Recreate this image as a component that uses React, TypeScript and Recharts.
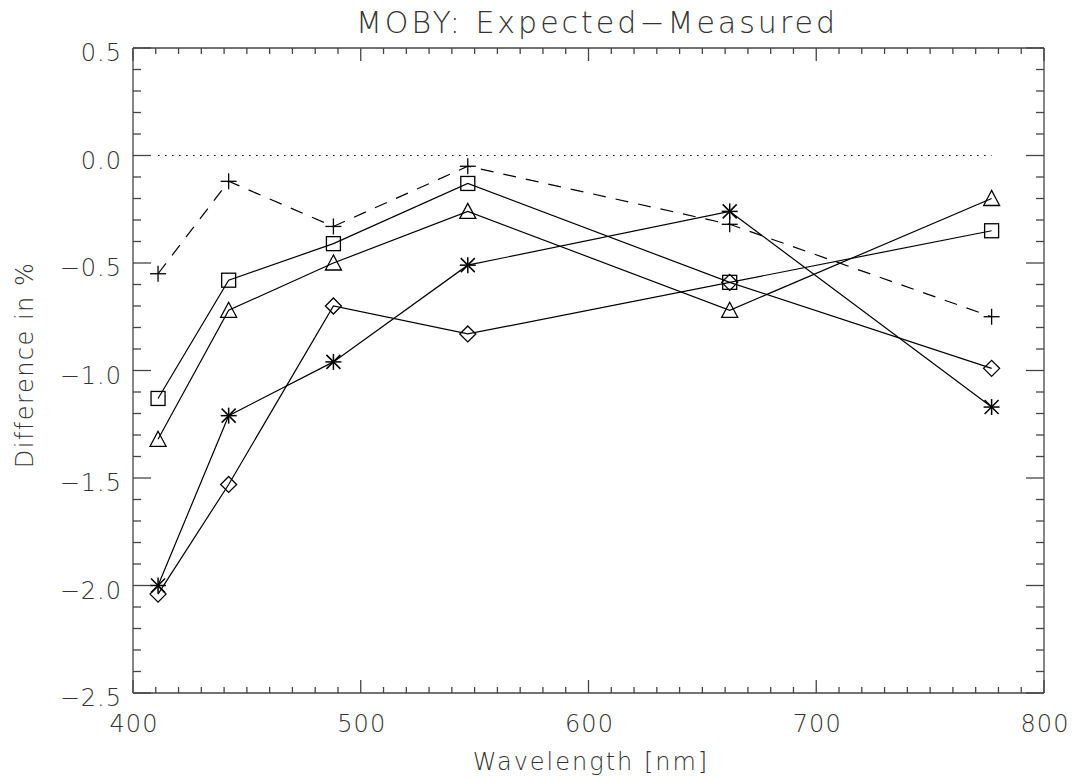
import { LineChart, Line, XAxis, YAxis } from "recharts";

// wavelengths (nm) of the six MOBY bands
const wavelengths = [411, 442, 488, 547, 662, 777];

// Expected - Measured differences in %
const plusSeries = [-0.55, -0.12, -0.33, -0.05, -0.32, -0.75];
const squareSeries = [-1.13, -0.58, -0.41, -0.13, -0.59, -0.35];
const triangleSeries = [-1.32, -0.72, -0.5, -0.26, -0.72, -0.2];
const asteriskSeries = [-2.0, -1.21, -0.96, -0.51, -0.26, -1.17];
const diamondSeries = [-2.04, -1.53, -0.7, -0.83, -0.59, -0.99];

const zeroLineX = [411, 777];
const zeroLineY = [0, 0];

const xMajorTicks = [400, 500, 600, 700, 800];
const yMajorTicks = [0.5, 0, -0.5, -1, -1.5, -2, -2.5];

const xMinorTicks: number[] = [];
for (let k = 40; k <= 80; k++) xMinorTicks.push(k * 10);
const yMinorTicks: number[] = [];
for (let k = -25; k <= 5; k++) yMinorTicks.push(k / 10);

const rows = wavelengths.map((w, i) => ({
  w,
  plus: plusSeries[i],
  square: squareSeries[i],
  triangle: triangleSeries[i],
  asterisk: asteriskSeries[i],
  diamond: diamondSeries[i],
}));
const zeroRows = zeroLineX.map((w, i) => ({ w, zero: zeroLineY[i] }));

const AXIS = "#444";
const INK = "#000";
const TEXT = "#333";
const FONT = "'DejaVu Sans', sans-serif";

const isMajorX = (v: number) => xMajorTicks.some((t) => Math.abs(t - v) < 1e-6);
const isMajorY = (v: number) => yMajorTicks.some((t) => Math.abs(t - v) < 1e-6);
const fmtY = (v: number) => (v < 0 ? "\u2212" : "") + Math.abs(v).toFixed(1);

const labelStyle = { fill: TEXT, fontFamily: FONT, fontWeight: 200 } as const;

const BottomTick = ({ x, y, payload }: any) => {
  const major = isMajorX(payload.value);
  return (
    <g>
      <line x1={x} x2={x} y1={y} y2={y - (major ? 13 : 6)} stroke={AXIS} strokeWidth={1.3} />
      {major && (
        <text x={x + 1} y={y + 39} textAnchor="middle" fontSize={24} letterSpacing={1} {...labelStyle}>
          {payload.value}
        </text>
      )}
    </g>
  );
};

const TopTick = ({ x, y, payload }: any) => {
  const major = isMajorX(payload.value);
  return <line x1={x} x2={x} y1={y} y2={y + (major ? 13 : 6)} stroke={AXIS} strokeWidth={1.3} />;
};

const LeftTick = ({ x, y, payload }: any) => {
  const major = isMajorY(payload.value);
  return (
    <g>
      <line x1={x} x2={x + (major ? 18 : 8)} y1={y} y2={y} stroke={AXIS} strokeWidth={1.3} />
      {major && (
        <text x={x - 11} y={y + 13} textAnchor="end" fontSize={24} letterSpacing={1} {...labelStyle}>
          {fmtY(payload.value)}
        </text>
      )}
    </g>
  );
};

const RightTick = ({ x, y, payload }: any) => {
  const major = isMajorY(payload.value);
  return <line x1={x} x2={x - (major ? 18 : 8)} y1={y} y2={y} stroke={AXIS} strokeWidth={1.3} />;
};

const PlusMark = ({ cx, cy }: any) => (
  <g stroke={INK} strokeWidth={1.3}>
    <line x1={cx - 8} x2={cx + 8} y1={cy} y2={cy} />
    <line x1={cx} x2={cx} y1={cy - 8} y2={cy + 8} />
  </g>
);
const SquareMark = ({ cx, cy }: any) => (
  <rect x={cx - 7} y={cy - 7} width={14} height={14} fill="none" stroke={INK} strokeWidth={1.3} />
);
const TriangleMark = ({ cx, cy }: any) => (
  <polygon points={`${cx},${cy - 8} ${cx - 8},${cy + 7} ${cx + 8},${cy + 7}`} fill="none" stroke={INK} strokeWidth={1.3} />
);
const DiamondMark = ({ cx, cy }: any) => (
  <polygon points={`${cx},${cy - 8} ${cx + 8},${cy} ${cx},${cy + 8} ${cx - 8},${cy}`} fill="none" stroke={INK} strokeWidth={1.3} />
);
const AsteriskMark = ({ cx, cy }: any) => (
  <g stroke={INK} strokeWidth={1.5}>
    <line x1={cx - 8} x2={cx + 8} y1={cy} y2={cy} />
    <line x1={cx} x2={cx} y1={cy - 8} y2={cy + 8} />
    <line x1={cx - 7} x2={cx + 7} y1={cy - 7} y2={cy + 7} />
    <line x1={cx - 7} x2={cx + 7} y1={cy + 7} y2={cy - 7} />
  </g>
);

const markerDot = (Mark: any) => (p: any) => <Mark key={p.index} cx={p.cx} cy={p.cy} />;

export default function App() {
  return (
    <div style={{ position: "absolute", left: 0, top: 0, width: 1073, height: 779, background: "#fff" }}>
      <LineChart width={1073} height={779} data={rows} margin={{ top: 47, right: 28, bottom: 0, left: 0 }}>
        <XAxis xAxisId="bottom" dataKey="w" type="number" domain={[400, 800]} ticks={xMinorTicks} interval={0} allowDataOverflow height={86} tickSize={0} tickMargin={0} tickLine={false} axisLine={{ stroke: AXIS, strokeWidth: 1.3 }} tick={<BottomTick />} />
        <XAxis xAxisId="top" orientation="top" dataKey="w" type="number" domain={[400, 800]} ticks={xMinorTicks} interval={0} allowDataOverflow height={1} tickSize={0} tickMargin={0} tickLine={false} axisLine={{ stroke: AXIS, strokeWidth: 1.3 }} tick={<TopTick />} />
        <YAxis yAxisId="left" type="number" domain={[-2.5, 0.5]} ticks={yMinorTicks} interval={0} allowDataOverflow width={133} tickSize={0} tickMargin={0} tickLine={false} axisLine={{ stroke: AXIS, strokeWidth: 1.3 }} tick={<LeftTick />} />
        <YAxis yAxisId="right" orientation="right" type="number" domain={[-2.5, 0.5]} ticks={yMinorTicks} interval={0} allowDataOverflow width={1} tickSize={0} tickMargin={0} tickLine={false} axisLine={{ stroke: AXIS, strokeWidth: 1.3 }} tick={<RightTick />} />
        <Line xAxisId="bottom" yAxisId="left" data={zeroRows} dataKey="zero" stroke={INK} strokeWidth={1.2} strokeDasharray="1.5 5.5" dot={false} isAnimationActive={false} />
        <Line xAxisId="bottom" yAxisId="left" dataKey="plus" stroke={INK} strokeWidth={1.2} strokeDasharray="13 10" dot={markerDot(PlusMark)} isAnimationActive={false} />
        <Line xAxisId="bottom" yAxisId="left" dataKey="square" stroke={INK} strokeWidth={1.2} dot={markerDot(SquareMark)} isAnimationActive={false} />
        <Line xAxisId="bottom" yAxisId="left" dataKey="triangle" stroke={INK} strokeWidth={1.2} dot={markerDot(TriangleMark)} isAnimationActive={false} />
        <Line xAxisId="bottom" yAxisId="left" dataKey="asterisk" stroke={INK} strokeWidth={1.2} dot={markerDot(AsteriskMark)} isAnimationActive={false} />
        <Line xAxisId="bottom" yAxisId="left" dataKey="diamond" stroke={INK} strokeWidth={1.2} dot={markerDot(DiamondMark)} isAnimationActive={false} />
      </LineChart>
      <svg width={1073} height={779} style={{ position: "absolute", left: 0, top: 0, pointerEvents: "none" }}>
        <text x={597} y={33} textAnchor="middle" fontSize={30} letterSpacing={3} {...labelStyle}>
          MOBY: Expected{"\u2212"}Measured
        </text>
        <text x={591} y={770} textAnchor="middle" fontSize={24} letterSpacing={2} {...labelStyle}>
          Wavelength [nm]
        </text>
        <text x={33} y={365} textAnchor="middle" fontSize={24} letterSpacing={1.5} transform="rotate(-90 33 365)" {...labelStyle}>
          Difference in %
        </text>
      </svg>
    </div>
  );
}
